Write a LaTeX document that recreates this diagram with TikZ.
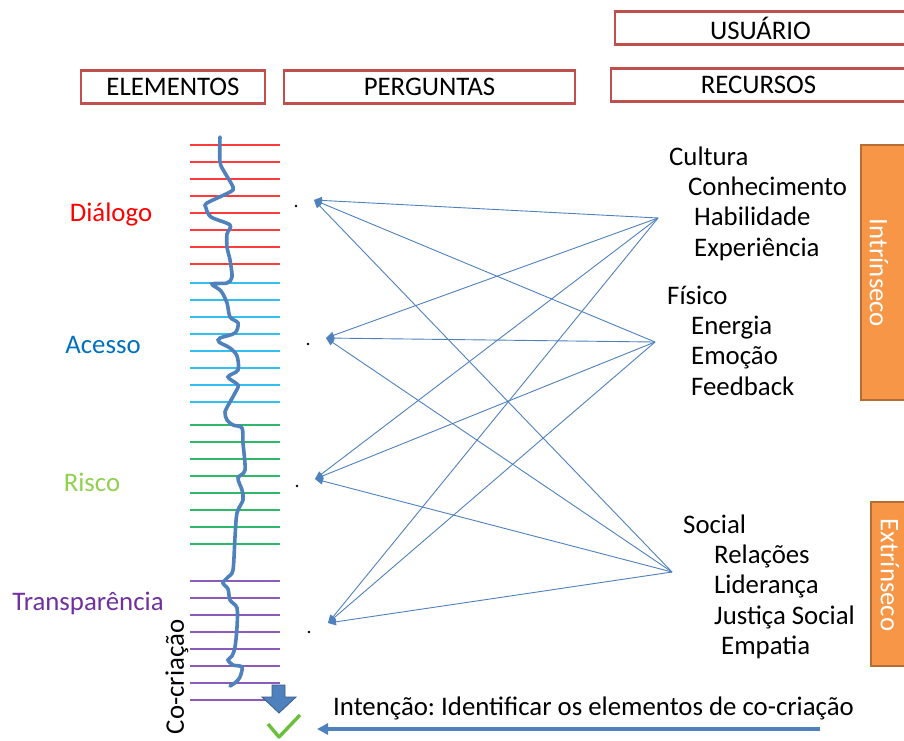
\documentclass[tikz,border=0pt]{standalone}
\usepackage{fontspec}
\setmainfont{Carlito}
\usetikzlibrary{arrows.meta}

\definecolor{boxred}{HTML}{C0504D}
\definecolor{lnkblue}{HTML}{4F81BD}
\definecolor{lnkdark}{HTML}{385D8A}
\definecolor{orfill}{HTML}{F79646}
\definecolor{ordraw}{HTML}{B66D31}
\definecolor{dred}{HTML}{FF0000}
\definecolor{dblue}{HTML}{0070C0}
\definecolor{dgreen}{HTML}{92D050}
\definecolor{dpurple}{HTML}{7030A0}
\definecolor{lred}{HTML}{FF3B3B}
\definecolor{lcyan}{HTML}{33BFF2}
\definecolor{lgreen}{HTML}{2DB86A}
\definecolor{lpurple}{HTML}{8A5BB8}
\definecolor{chk}{HTML}{6CBF3A}

\tikzset{
  hdr/.style={draw=boxred, line width=2.2pt, minimum height=33pt},
  orbox/.style={draw=ordraw, fill=orfill, line width=1.2pt},
  link/.style={lnkblue, line width=0.9pt, -{Triangle[length=8pt,width=7pt]}},
  txt/.style={anchor=west, text height=17pt, text depth=0pt}
}

\begin{document}
\frenchspacing
\begin{tikzpicture}[x=1pt, y=-1pt,
  every node/.style={font=\fontsize{26.8}{30}\selectfont, inner sep=0pt}]
    \clip (0,0) rectangle (904,740);
    \fill[white] (0,0) rectangle (904,740);

    % header boxes
    \node[hdr, minimum width=184pt] (elem) at (173,87) {ELEMENTOS};
    \node[hdr, minimum width=291pt] (perg) at (429.5,87) {PERGUNTAS};
    \node[hdr, minimum width=291pt] (usu) at (760.5,28) {USUÁRIO};
    \node[hdr, minimum width=295pt] (recs) at (758.5,85) {RECURSOS};

    % horizontal lines of the elements
    \foreach \y in {145,162,...,264} \draw[lred, line width=1.4pt] (190,\y) -- (280,\y);
    \foreach \y in {283,300,...,402} \draw[lcyan, line width=1.4pt] (190,\y) -- (280,\y);
    \foreach \y in {425,442,...,544} \draw[lgreen, line width=1.4pt] (190,\y) -- (280,\y);
    \foreach \y in {581,598,...,700} \draw[lpurple, line width=1.4pt] (190,\y) -- (280,\y);

    % wavy line
    \draw[lnkblue, line width=3.6pt, line cap=round] plot[smooth, tension=0.5] coordinates {
      (220,137) (220,162) (225,173) (233,187) (230,192) (207,203) (206,208)
      (211,217) (230,225) (227,234) (227,247) (230,260) (232,277) (227,283)
      (212,284) (221,291) (227,303) (230,317) (238,323) (235,333) (220,338)
      (219,342) (230,348) (237,356) (238,370) (228,377) (238,385) (235,393)
      (230,402) (225,412) (227,420) (233,425) (242,428) (243,443) (245,470)
      (238,478) (242,490) (243,500) (237,513) (235,537) (233,570) (228,577)
      (223,583) (228,589) (230,600) (237,608) (237,627) (235,647) (232,656)
      (228,660) (233,665) (242,667) (240,677) (236,682) (230,686)};

    % element labels
    \node[dred, text height=17pt, text depth=0pt] (dial) at (111,213) {Diálogo};
    \node[dblue, text height=17pt, text depth=0pt] (aces) at (103,345) {Acesso};
    \node[dgreen, text height=17pt, text depth=0pt] (risc) at (92,483) {Risco};
    \node[dpurple, text height=17pt, text depth=0pt] (trans) at (88,602) {Transparência};
    \node[rotate=90] (cocr) at (177,677) {Co-criação};

    % question points
    \node[circle, fill=black, minimum size=2.6pt] (d1) at (296,206) {};
    \node[circle, fill=black, minimum size=2.6pt] (d2) at (308,344) {};
    \node[circle, fill=black, minimum size=2.6pt] (d3) at (297,486) {};
    \node[circle, fill=black, minimum size=2.6pt] (d4) at (309,632) {};
    \coordinate (q1) at (314,200);
    \coordinate (q2) at (326,338);
    \coordinate (q3) at (315,479);
    \coordinate (q4) at (328,623);

    % resource points
    \coordinate (cult) at (658,218);
    \coordinate (fis) at (655,342);
    \coordinate (soc) at (672,572);
    \foreach \s in {cult,fis,soc}
        \foreach \t in {q1,q2,q3,q4}
            \draw[link] (\s) -- (\t);

    % resources
    \node[txt] (cul) at (669,157) {Cultura};
    \node[txt] (con) at (688,187) {Conhecimento};
    \node[txt] (hab) at (694,217) {Habilidade};
    \node[txt] (exp) at (694,248) {Experiência};
    \node[txt] (fisi) at (667,296) {Físico};
    \node[txt] (ener) at (691,326) {Energia};
    \node[txt] (emoc) at (691,356) {Emoção};
    \node[txt] (feed) at (691,387) {Feedback};
    \node[txt] (soci) at (683,525) {Social};
    \node[txt] (rel) at (714,555) {Relações};
    \node[txt] (lid) at (714,585) {Liderança};
    \node[txt] (just) at (714,616) {Justiça Social};
    \node[txt] (emp) at (721,646) {Empatia};

    % orange side boxes
    \draw[orbox] (861,145) rectangle (914,400);
    \node[white, rotate=-90] (intr) at (879,273) {Intrínseco};
    \draw[orbox] (871,502) rectangle (914,666);
    \node[white, rotate=-90] (extr) at (890,575) {Extrínseco};

    % bottom: block arrow, check and intention
    \draw[fill=lnkblue, draw=lnkdark, line width=0.8pt]
        (272,685) -- (285,685) -- (285,697) -- (296,697) -- (279,713)
        -- (262,697) -- (272,697) -- cycle;
    \draw[chk, line width=3.4pt, line join=round] (268,724) -- (279,737) -- (300,715);
    \node[txt] (inte) at (333,707) {Intenção: Identificar os elementos de co-criação};
    \coordinate (ibeg) at (820,729);
    \coordinate (iend) at (317,729);
    \draw[lnkblue, line width=3.4pt, -{Triangle[length=11pt,width=11pt]}] (ibeg) -- (iend);
\end{tikzpicture}
\end{document}
